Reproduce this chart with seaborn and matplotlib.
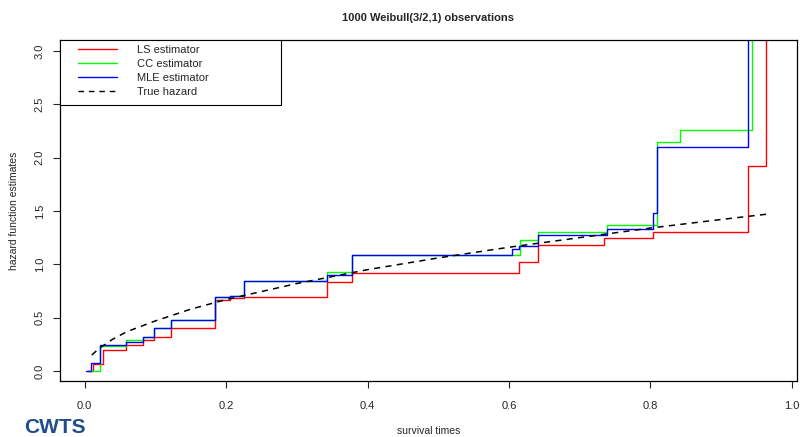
import numpy as np
import pandas as pd
import matplotlib
matplotlib.use("Agg")
import matplotlib.pyplot as plt
from matplotlib.patches import Rectangle
import seaborn as sns

sns.set_style("ticks")
plt.rcParams['font.family'] = ['Liberation Sans', 'DejaVu Sans']

# step estimates (time where each level starts, level)
ls_t = [0.003, 0.012, 0.026, 0.059, 0.0825, 0.0976, 0.1226, 0.184, 0.205, 0.225,
        0.343, 0.378, 0.614, 0.641, 0.734, 0.804, 0.938, 0.963]
ls_h = [0.0, 0.07, 0.193, 0.246, 0.287, 0.32, 0.40, 0.668, 0.684, 0.69,
        0.83, 0.918, 1.02, 1.18, 1.246, 1.30, 1.924, 3.6]

cc_t = [0.004, 0.022, 0.059, 0.0825, 0.0976, 0.1226, 0.184, 0.205, 0.225,
        0.343, 0.378, 0.615, 0.641, 0.738, 0.809, 0.842, 0.944]
cc_h = [0.0, 0.235, 0.29, 0.32, 0.40, 0.48, 0.69, 0.70, 0.84,
        0.93, 1.085, 1.224, 1.30, 1.371, 2.15, 2.255, 3.6]

mle_t = [0.002, 0.0095, 0.022, 0.059, 0.0825, 0.0976, 0.1226, 0.184, 0.205, 0.225,
         0.343, 0.378, 0.604, 0.614, 0.641, 0.738, 0.804, 0.809, 0.938]
mle_h = [0.0, 0.075, 0.246, 0.27, 0.32, 0.40, 0.48, 0.69, 0.706, 0.84,
         0.896, 1.085, 1.146, 1.168, 1.271, 1.334, 1.48, 2.10, 3.6]

# true hazard curve
true_t = [0.01, 0.02, 0.04, 0.06, 0.1, 0.15, 0.2, 0.3, 0.4, 0.5, 0.6, 0.7, 0.8, 0.9, 0.965]
true_h = [0.15, 0.21, 0.30, 0.37, 0.47, 0.58, 0.67, 0.82, 0.95, 1.06, 1.16, 1.25, 1.34, 1.42, 1.47]

fig = plt.figure(figsize=(8, 4.37), dpi=100)
ax = fig.add_axes([0.075, 0.128, 0.921, 0.780])

for t, h, col, lab in [(ls_t, ls_h, '#FF0000', 'LS estimator'),
                       (cc_t, cc_h, '#00FF00', 'CC estimator'),
                       (mle_t, mle_h, '#0000FF', 'MLE estimator')]:
    sns.lineplot(x=t, y=h, ax=ax, color=col, lw=1, drawstyle='steps-post',
                 estimator=None, sort=False, label=lab)
sns.lineplot(x=true_t, y=true_h, ax=ax, color='black', lw=1.1, ls=(0, (4, 3.5)),
             estimator=None, label='True hazard')

ax.set_xlim(-0.035, 1.007)
ax.set_ylim(-0.094, 3.10)
ax.set_xticks([0.0, 0.2, 0.4, 0.6, 0.8, 1.0])
ax.set_xticklabels(['0.0', '0.2', '0.4', '0.6', '0.8', '1.0'])
ax.set_yticks([0.0, 0.5, 1.0, 1.5, 2.0, 2.5, 3.0])
ax.set_yticklabels(['0.0', '0.5', '1.0', '1.5', '2.0', '2.5', '3.0'], rotation=90, va='center')
ax.tick_params(axis='both', labelsize=8, length=5, width=0.8, direction='out')
ax.tick_params(axis='x', pad=9)
ax.tick_params(axis='y', pad=6)
for s in ax.spines.values():
    s.set_linewidth(0.9)
    s.set_color('black')

ax.set_xlabel('survival times', fontsize=7.5, labelpad=11)
ax.set_ylabel('hazard function estimates', fontsize=7.5, labelpad=11)
ax.set_title('1000 Weibull(3/2,1) observations', fontsize=8, fontweight='bold', pad=14)

# legend box drawn separately so the entries can sit inset like in R
ax.add_patch(Rectangle((0.0, 0.809), 0.30, 0.191, transform=ax.transAxes,
                       facecolor='white', edgecolor='black', lw=0.8, zorder=4))
leg = ax.legend(loc='upper left', bbox_to_anchor=(0.0245, 0.985), frameon=False,
                fontsize=8, borderaxespad=0, borderpad=0,
                handlelength=3.5, handletextpad=1.8, labelspacing=0.35)
leg.set_zorder(5)
for line in leg.get_lines():
    line.set_linewidth(1.0)

fig.text(0.03, 0.01, 'CWTS', color='#1f4e8c', fontsize=15, fontweight='bold')

fig.savefig('out.png', dpi=100)
